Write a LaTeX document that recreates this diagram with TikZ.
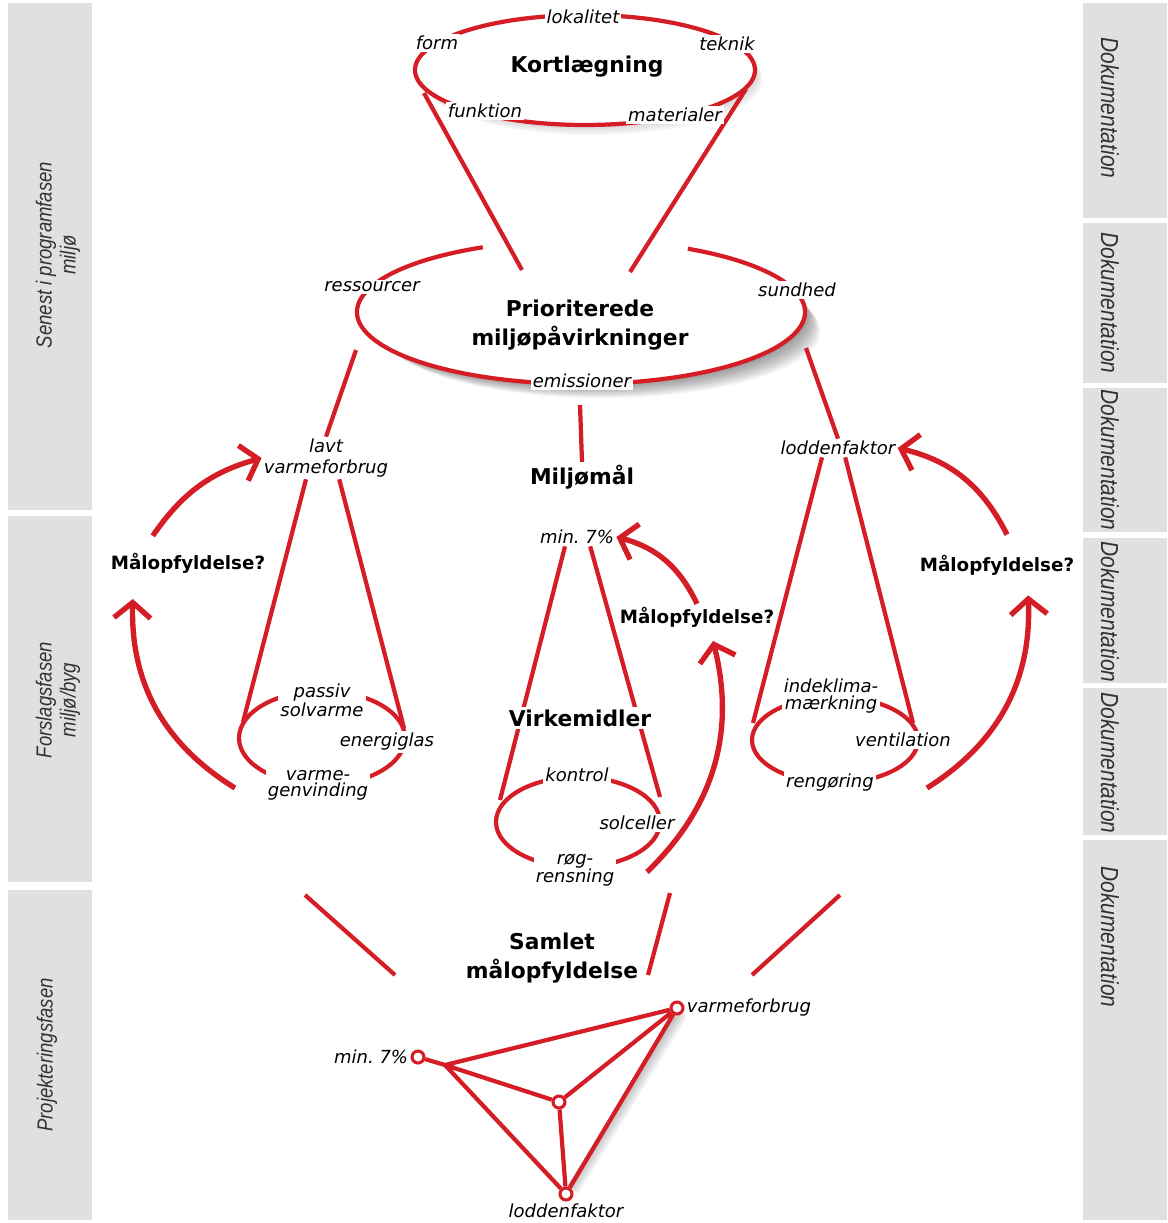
\documentclass[tikz,border=0pt]{standalone}
\usepackage{fontspec}
\setmainfont{DejaVu Sans}
\newfontfamily\panelfont[FakeStretch=0.85]{Liberation Sans}
\usetikzlibrary{arrows.meta}
\definecolor{mred}{RGB}{213,29,38}
\definecolor{panelgray}{RGB}{224,224,222}
\definecolor{paneltext}{RGB}{50,50,50}
\pgfdeclarelayer{shade}
\pgfdeclarelayer{lines}
\pgfsetlayers{shade,lines,main}

\begin{document}
\begin{tikzpicture}[x=0.025cm, y=0.025cm,
  ringline/.style={draw=mred, line width=3pt},
  conline/.style={draw=mred, line width=3pt, line join=round},
  backarrow/.style={draw=mred, line width=3.8pt, -{Straight Barb[length=11pt,width=26pt]}},
  headtxt/.style={font=\bfseries\fontsize{15.5}{21}\selectfont, align=center, inner sep=2pt},
  asktxt/.style={font=\bfseries\fontsize{13}{16}\selectfont, align=center, inner sep=2pt},
  tagtxt/.style={font=\itshape\fontsize{12.8}{11.5}\selectfont, align=center, fill=white, inner sep=1.5pt},
  panelbox/.style={fill=panelgray},
  paneltxt/.style={font=\panelfont\itshape\fontsize{15.5}{17}\selectfont, text=paneltext, align=center},
  doctxt/.style={paneltxt, font=\panelfont\itshape\fontsize{17.5}{19}\selectfont},
  dot/.style={circle, draw=mred, fill=white, line width=2.2pt, minimum size=8.5pt, inner sep=0pt}]
\useasboundingbox (0,0) rectangle (1167,-1223);

% phase panels
\fill[panelbox] (8,-3) rectangle (92,-510);
\fill[panelbox] (8,-516) rectangle (92,-882);
\fill[panelbox] (8,-890) rectangle (92,-1220);
\foreach \ya/\yb in {3/218, 223/383, 388/532, 538/683, 688/835, 840/1220}
  \fill[panelbox] (1083,-\ya) rectangle (1167,-\yb);
\node[paneltxt, rotate=90] (fase1) at (58,-255) {Senest i programfasen\\miljø};
\node[paneltxt, rotate=90] (fase2) at (58,-700) {Forslagsfasen\\miljø/byg};
\node[paneltxt, rotate=90] (fase3) at (47,-1055) {Projekteringsfasen};
\foreach \y [count=\i] in {108,303,460,612,763,937}
  \node[doctxt, rotate=-90] (dok\i) at (1110,-\y) {Dokumentation};

% kortlaegning
\node[headtxt] (kort) at (587,-67) {Kortlægning};
\node[tagtxt] (lokal) at (583,-17) {lokalitet};
\node[tagtxt] (form) at (437,-43) {form};
\node[tagtxt] (teknik) at (727,-44) {teknik};
\node[tagtxt] (funk) at (485,-111) {funktion};
\node[tagtxt] (mater) at (675,-115) {materialer};
\coordinate (kortL) at (424,-93);
\coordinate (kortR) at (746,-89);

% prioriterede
\node[headtxt] (prio) at (580,-325) {Prioriterede\\miljøpåvirkninger};
\node[tagtxt] (ress) at (372,-287) {ressourcer};
\node[tagtxt] (sund) at (797,-290) {sundhed};
\node[tagtxt] (emis) at (582,-381) {emissioner};
\coordinate (prioNW) at (522,-270);
\coordinate (prioNE) at (630,-272);
\coordinate (prioSW) at (356,-350);
\coordinate (prioS) at (580,-405);
\coordinate (prioSE) at (806,-348);

% venstre kegle
\node[tagtxt] (lavt) at (326,-458) {lavt\\[3pt]varmeforbrug};
\node[tagtxt] (passiv) at (322,-700) {passiv\\solvarme};
\node[tagtxt] (energi) at (387,-742) {energiglas};
\node[tagtxt] (genvind) at (318,-785) {varme-\\genvinding};
\node[asktxt] (mal1) at (188,-563) {Målopfyldelse?};
\coordinate (lavtL) at (243,-722);
\coordinate (lavtR) at (404,-728);
\coordinate (fb1) at (235,-788);

% midterste kegle
\node[headtxt] (miljo) at (582,-477) {Miljømål};
\node[tagtxt] (min7) at (577,-537) {min.~7\%};
\node[headtxt, fill=white] (virk) at (580,-718) {Virkemidler};
\node[tagtxt] (kontrol) at (577,-775) {kontrol};
\node[tagtxt] (solc) at (637,-823) {solceller};
\node[tagtxt] (rog) at (575,-870) {røg-\\rensning};
\node[asktxt] (mal2) at (697,-617) {Målopfyldelse?};
\coordinate (min7L) at (500,-800);
\coordinate (min7R) at (660,-797);
\coordinate (fb2) at (647,-872);

% hoejre kegle
\node[tagtxt] (lodd) at (838,-448) {loddenfaktor};
\node[tagtxt] (inde) at (831,-696) {indeklima-\\mærkning};
\node[tagtxt] (vent) at (903,-740) {ventilation};
\node[tagtxt] (reng) at (830,-783) {rengøring};
\node[asktxt] (mal3) at (997,-565) {Målopfyldelse?};
\coordinate (loddL) at (753,-723);
\coordinate (loddR) at (913,-723);
\coordinate (fb3) at (927,-788);

% samlet
\node[headtxt] (samlet) at (552,-958) {Samlet\\målopfyldelse};
\coordinate (base1) at (305,-895);
\coordinate (base2) at (670,-893);
\coordinate (base3) at (840,-895);
\coordinate (sam1) at (395,-975);
\coordinate (sam2) at (648,-975);
\coordinate (sam3) at (752,-975);

\node[dot] (t7) at (418,-1057) {};
\node[dot] (tv) at (677,-1008) {};
\node[dot] (tl) at (566,-1194) {};
\node[dot] (tc) at (559,-1102) {};
\coordinate (tA) at (445,-1065);
\node[tagtxt, anchor=east] (t7txt) at (t7.west) {min.~7\%};
\node[tagtxt, anchor=west] (tvtxt) at (tv.east) {varmeforbrug};
\node[tagtxt, anchor=north] (tltxt) at (tl.south) {loddenfaktor};

\begin{pgfonlayer}{shade}
\foreach \s in {1,...,5}
  \fill[black, opacity=0.035] (585+1.5*\s,-70-2*\s) ellipse [x radius=170, y radius=55];
\fill[white] (585,-70) ellipse [x radius=170, y radius=55];
\foreach \s in {1,...,14}
  \fill[black, opacity=0.035] (581+1.5*\s,-312-1.4*\s) ellipse [x radius=224-0.4*\s, y radius=72-0.4*\s];
\fill[white] (581,-312) ellipse [x radius=224, y radius=72];
\foreach \s in {1,...,6}
  \fill[black, opacity=0.05] (445+2*\s,-1065-\s) -- (677+2*\s,-1008-\s) -- (566+2*\s,-1188-\s) -- cycle;
\fill[white] (445,-1065) -- (677,-1008) -- (566,-1188) -- cycle;
\end{pgfonlayer}

\begin{pgfonlayer}{lines}
\draw[ringline] (585,-70) ellipse [x radius=170, y radius=55];
\draw[conline] (kortL) -- (prioNW);
\draw[conline] (kortR) -- (prioNE);
\draw[ringline] (581,-312) ++(116:224 and 72) arc [start angle=116, end angle=421.5, x radius=224, y radius=72];
\draw[conline] (prioSW) -- (lavt.north);
\draw[conline] (prioS) -- (miljo.north);
\draw[conline] (prioSE) -- (lodd.north);

\draw[ringline] (322,-738) ellipse [x radius=83, y radius=47];
\draw[conline] ([xshift=-0.5cm]lavt.south) -- (lavtL);
\draw[conline] ([xshift=0.33cm]lavt.south) -- (lavtR);
\draw[ringline] (578,-822) ellipse [x radius=82, y radius=45];
\draw[conline] ([xshift=-0.3cm]min7.south) -- (min7L);
\draw[conline] ([xshift=0.33cm]min7.south) -- (min7R);
\draw[ringline] (835,-740) ellipse [x radius=83, y radius=43];
\draw[conline] ([xshift=-0.4cm]lodd.south) -- (loddL);
\draw[conline] ([xshift=0.18cm]lodd.south) -- (loddR);

\draw[backarrow] ([xshift=-0.88cm,yshift=0.35cm]mal1.north) to[bend left=20] (lavt.west);
\draw[backarrow] (fb1) to[bend left=30] ([xshift=-1.38cm,yshift=-0.57cm]mal1.south);
\draw[backarrow] (mal2.north) to[bend right=25] (min7.east);
\draw[backarrow] (fb2) to[bend right=30] ([xshift=0.4cm,yshift=-0.27cm]mal2.south);
\draw[backarrow] ([xshift=0.25cm,yshift=0.43cm]mal3.north) to[bend right=25] (lodd.east);
\draw[backarrow] (fb3) to[bend right=30] ([xshift=0.78cm,yshift=-0.43cm]mal3.south);

\draw[conline] (base1) -- (sam1);
\draw[conline] (base2) -- (sam2);
\draw[conline] (base3) -- (sam3);

\draw[conline] (t7) -- (tA) -- (tv) -- (tl) -- (tA) -- (tc) -- (tv);
\draw[conline] (tc) -- (tl);
\end{pgfonlayer}
\end{tikzpicture}
\end{document}
